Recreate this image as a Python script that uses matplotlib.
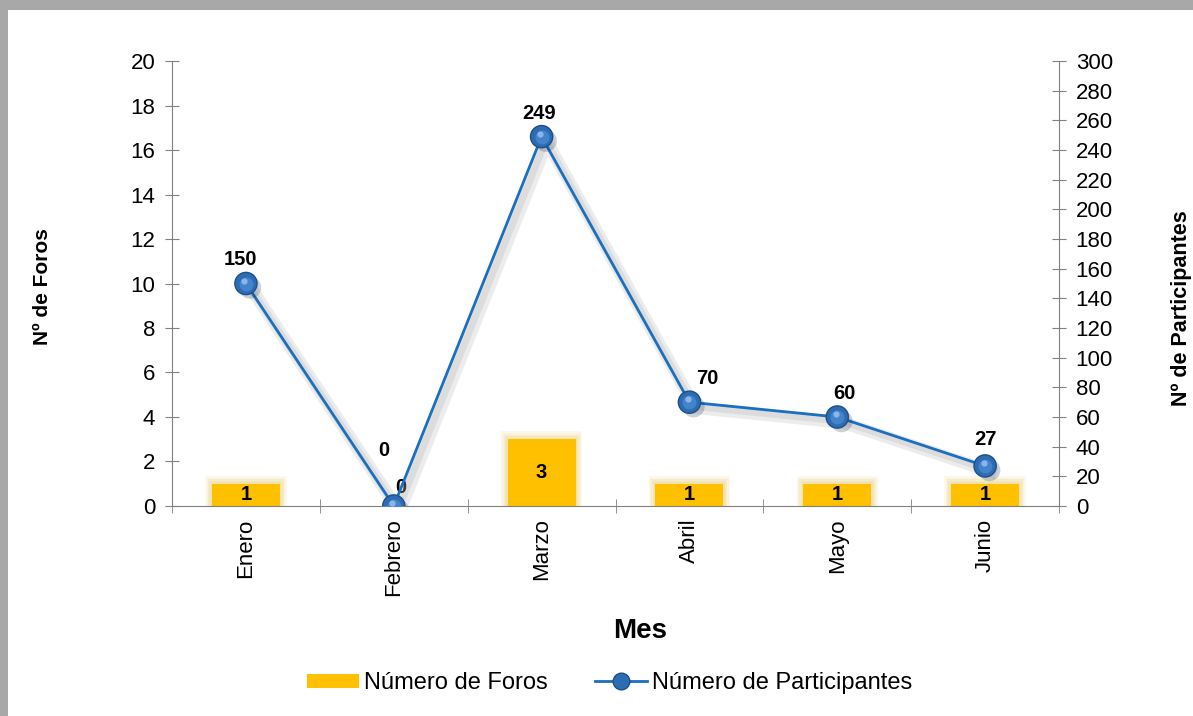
import numpy as np
import matplotlib.pyplot as plt
import matplotlib.patheffects as pe
import matplotlib.transforms as mtransforms
from matplotlib.patches import Rectangle
from matplotlib.lines import Line2D

plt.rcParams['font.family'] = ['Liberation Sans', 'DejaVu Sans']

# Data
meses = ['Enero', 'Febrero', 'Marzo', 'Abril', 'Mayo', 'Junio']
foros = [1, 0, 3, 1, 1, 1]
participantes = [150, 0, 249, 70, 60, 27]

# label offsets in points (line labels)
lab_off = [(-4, 17), (-7, 40), (-2, 17), (13, 17), (5, 17), (0, 19)]

fig = plt.figure(figsize=(11.93, 7.16), dpi=100)
fig.patch.set_facecolor('#a8a8a8')
# white card with grey frame on top/left
fig.patches.append(Rectangle((8/1193, 0), 1, 1 - 10/716, transform=fig.transFigure,
                             facecolor='white', edgecolor='none', zorder=-10))

ax = fig.add_axes([0.1442, 0.2933, 0.7435, 0.6215])
ax.set_facecolor('none')
ax2 = ax.twinx()

x = np.arange(len(meses))
grey = '#808080'
f = np.array(foros, dtype=float)

# bars with soft glow
for k in range(1, 6):
    ax.bar(x, f + 0.07 * k * (f > 0), width=0.46 + 0.018 * k,
           color='#d9a800', alpha=0.07, zorder=1, lw=0)
ax.bar(x, foros, width=0.46, color='#ffc000', zorder=2)
for xi, v in zip(x, foros):
    ax.annotate(str(v), (xi, v / 2), xytext=(0 if v else 5, 0 if v else 13), textcoords='offset points',
                ha='center', va='center', fontsize=14.5, fontweight='bold', zorder=5)

ax.set_xlim(-0.5, 5.5)
ax.set_ylim(0, 20)
ax.set_yticks(np.arange(0, 21, 2))
ax2.set_ylim(0, 300)
ax2.set_yticks(np.arange(0, 301, 20))

# line with shadow and sphere markers
ax2.plot(x, participantes, color='#1a6fc0', lw=2, zorder=3,
         path_effects=[pe.SimpleLineShadow(offset=(4, -4), shadow_color='#a0a0a0', alpha=0.2, linewidth=9),
                       pe.SimpleLineShadow(offset=(3, -3), shadow_color='#a0a0a0', alpha=0.2, linewidth=5),
                       pe.Normal()])
ax2.plot(x, participantes, ls='none', marker='o', ms=16, mfc='#2b6cb3', mec='#1d4f8a', mew=1, zorder=4,
         path_effects=[pe.SimplePatchShadow(offset=(3, -3), alpha=0.2), pe.Normal()])
ax2.plot(x, participantes, ls='none', marker='o', ms=10, mfc='#4a8ad2', mec='none', zorder=4, alpha=0.8)
shift = mtransforms.ScaledTranslation(-1.5/100, 3/100, fig.dpi_scale_trans)
ax2.plot(x, participantes, ls='none', marker='o', ms=4.5, mfc='#9cc4ee', mec='none', zorder=4, alpha=0.8,
         transform=ax2.transData + shift)
for xi, v, off in zip(x, participantes, lab_off):
    ax2.annotate(str(v), (xi, v), xytext=off, textcoords='offset points',
                 ha='center', va='center', fontsize=14.5, fontweight='bold', zorder=5)

# axes styling
for a in (ax, ax2):
    a.spines['top'].set_visible(False)
    for s in a.spines.values():
        s.set_color(grey)
ax.spines['right'].set_visible(False)
ax2.spines['left'].set_visible(False)
ax2.spines['bottom'].set_visible(False)

ax.tick_params(axis='y', direction='inout', length=10, color=grey, labelsize=16, pad=7)
ax2.tick_params(axis='y', direction='inout', length=10, color=grey, labelsize=16, pad=7)

ax.set_xticks(x)
ax.set_xticklabels(meses, rotation=90, fontsize=16)
ax.set_xticks(np.arange(-0.5, 6, 1), minor=True)
ax.tick_params(axis='x', which='major', length=0, pad=9)
ax.tick_params(axis='x', which='minor', direction='inout', length=10, color=grey)

ax.set_ylabel('Nº de Foros', fontsize=15, fontweight='bold')
ax.yaxis.set_label_coords(-0.1355, 0.492)
ax2.set_ylabel('Nº de Participantes', fontsize=15.5, fontweight='bold')
ax2.yaxis.set_label_coords(1.126, 0.445)
ax.set_xlabel('Mes', fontsize=20, fontweight='bold')
ax.xaxis.set_label_coords(0.528, -0.252)

handles = [Rectangle((0, 0), 1, 1, facecolor='#ffc000', edgecolor='none'),
           Line2D([], [], color='#1a6fc0', lw=2, marker='o', ms=12, mfc='#2b6cb3', mec='#1d4f8a')]
fig.legend(handles, ['Número de Foros', 'Número de Participantes'], loc='center',
           bbox_to_anchor=(0.511, 0.046), ncol=2, frameon=False, fontsize=17,
           handlelength=2.2, handleheight=0.55, columnspacing=2.0, handletextpad=0.2)

fig.savefig('out.png', dpi=100, facecolor=fig.get_facecolor())
